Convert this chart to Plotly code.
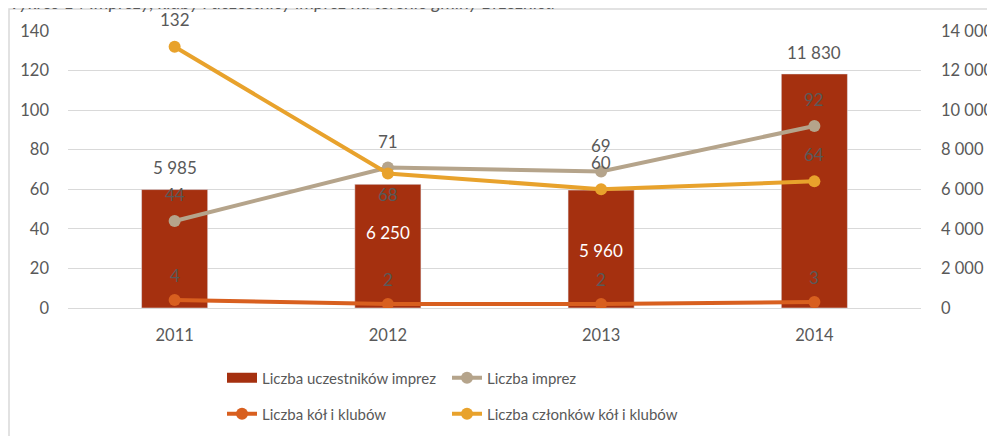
import plotly.graph_objects as go

years = ["2011", "2012", "2013", "2014"]
uczestnicy = [5985, 6250, 5960, 11830]
imprezy = [44, 71, 69, 92]
kola = [4, 2, 2, 3]
czlonkowie = [132, 68, 60, 64]

left_ticks = [0, 20, 40, 60, 80, 100, 120, 140]
right_ticks = [0, 2000, 4000, 6000, 8000, 10000, 12000, 14000]

title_text = "Wykres 14 Imprezy, kluby i uczestnicy imprez na terenie gminy Brzeźnica"
names = ["Liczba uczestników imprez", "Liczba imprez", "Liczba kół i klubów", "Liczba członków kół i klubów"]

C_BAR = "#A5300F"
C_IMP = "#B5A48B"
C_KOL = "#D85F1F"
C_CZL = "#E8A22C"
TXT = "#595959"
GRID = "#D9D9D9"
FONT = "Lato"

# the page body has an 8px margin, so the figure is sized/positioned to compensate
OFF = 8
W, H = 995 - OFF, 436 - OFF
ML, MR, MT, MB = 68 - OFF, 74, 31 - OFF, 128
PW = W - ML - MR
PH = H - MT - MB


def px_x(page_x):
    return (page_x - OFF - ML) / PW


def px_y(page_y):
    return (H - MB - (page_y - OFF)) / PH


def fmt(v):
    return f"{v:,}".replace(",", " ")


fig = go.Figure()

# legend stand-in for the bar series (wide rectangle symbol)
fig.add_trace(go.Scatter(x=years[:1], y=[None], mode="lines", name=names[0],
                         line=dict(color=C_BAR, width=10), legend="legend",
                         yaxis="y", hoverinfo="skip"))
# bars on the primary (right-side) axis so lines on the overlay axis are drawn above
fig.add_trace(go.Bar(x=years, y=uczestnicy, name=names[0], marker_color=C_BAR,
                     width=0.31, yaxis="y", showlegend=False))
fig.add_trace(go.Scatter(x=years, y=imprezy, name=names[1], mode="lines+markers",
                         line=dict(color=C_IMP, width=4), marker=dict(size=12, color=C_IMP),
                         yaxis="y2", legend="legend2"))
fig.add_trace(go.Scatter(x=years, y=kola, name=names[2], mode="lines+markers",
                         line=dict(color=C_KOL, width=4), marker=dict(size=12, color=C_KOL),
                         yaxis="y2", legend="legend3"))
fig.add_trace(go.Scatter(x=years, y=czlonkowie, name=names[3], mode="lines+markers",
                         line=dict(color=C_CZL, width=4), marker=dict(size=12, color=C_CZL),
                         yaxis="y2", legend="legend4"))

ann = []
lab_font = dict(family=FONT, size=17, color=TXT)
# bar labels
bar_shift = [22, -48, -60, 21]
bar_col = [TXT, "white", "white", TXT]
for i, (v, s, c) in enumerate(zip(uczestnicy, bar_shift, bar_col)):
    ann.append(dict(x=i, y=v, yref="y", xref="x", text=fmt(v), showarrow=False,
                    yshift=s, font=dict(family=FONT, size=17, color=c)))
for i, v in enumerate(imprezy):
    ann.append(dict(x=i, y=v, yref="y2", xref="x", text=str(v), showarrow=False,
                    yshift=26, font=lab_font))
czl_shift = [27, -21, 27, 27]
for i, (v, s) in enumerate(zip(czlonkowie, czl_shift)):
    ann.append(dict(x=i, y=v, yref="y2", xref="x", text=str(v), showarrow=False,
                    yshift=s, font=lab_font))
for i, v in enumerate(kola):
    ann.append(dict(x=i, y=v, yref="y2", xref="x", text=str(v), showarrow=False,
                    yshift=25, font=lab_font))
# clipped caption at the top
ann.append(dict(x=px_x(0), y=px_y(2), xref="paper", yref="paper",
                xanchor="left", yanchor="middle", showarrow=False,
                text="<i>" + title_text + "</i>",
                font=dict(family=FONT, size=18.5, color=TXT)))

leg_font = dict(family=FONT, size=15, color=TXT)
tick_font = dict(family=FONT, size=16.5, color=TXT)


def leg(page_x, page_y):
    return dict(orientation="h", x=px_x(page_x), xanchor="left",
                y=px_y(page_y), yanchor="middle", font=leg_font,
                bgcolor="rgba(0,0,0,0)", itemwidth=30)


fig.update_layout(
    width=W, height=H,
    margin=dict(l=ML, r=MR, t=MT, b=MB, autoexpand=False),
    paper_bgcolor="white", plot_bgcolor="white",
    separators=", ",
    font=dict(family=FONT, size=16, color=TXT),
    bargap=0.69,
    xaxis=dict(type="category", categoryorder="array", categoryarray=years,
               range=[-0.5, len(years) - 0.5], automargin=False,
               showgrid=False, showline=True, linecolor=GRID,
               linewidth=1, ticks="", tickfont=tick_font,
               ticklabelstandoff=12),
    yaxis=dict(range=[0, 14000], tickvals=right_ticks, side="right",
               showgrid=True, gridcolor=GRID, gridwidth=1, automargin=False,
               zeroline=False, showline=False, ticks="",
               tickformat=",d", tickfont=tick_font, ticklabelstandoff=19),
    yaxis2=dict(range=[0, 140], tickvals=left_ticks, overlaying="y", side="left",
                showgrid=False, zeroline=False, showline=False, ticks="",
                automargin=False, tickfont=tick_font, ticklabelstandoff=18),
    legend=leg(222, 378),
    legend2=leg(447, 378),
    legend3=leg(222, 414),
    legend4=leg(447, 414),
    annotations=ann,
    shapes=[dict(type="rect", xref="paper", yref="paper",
                 x0=px_x(9), x1=px_x(1010),
                 y0=px_y(450), y1=px_y(9),
                 line=dict(color=GRID, width=1.5), fillcolor="rgba(0,0,0,0)",
                 layer="above")],
)

fig.write_html("out.html")
